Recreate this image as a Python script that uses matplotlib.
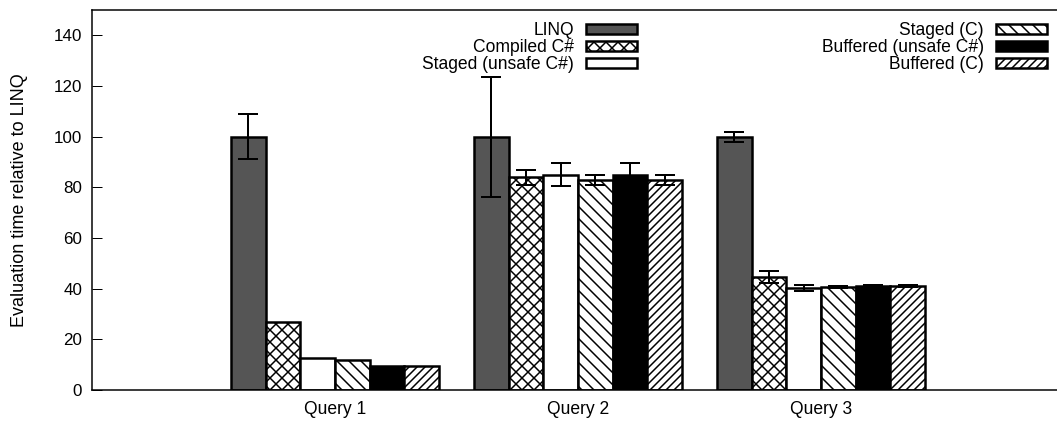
import matplotlib
matplotlib.use('Agg')
import matplotlib.pyplot as plt
import numpy as np

# data
queries = ['Query 1', 'Query 2', 'Query 3']
series = ['LINQ', 'Compiled C#', 'Staged (unsafe C#)',
          'Staged (C)', 'Buffered (unsafe C#)', 'Buffered (C)']

linq = [100, 100, 100]
compiled = [27, 84, 44.5]
staged_unsafe = [12.5, 85, 40.3]
staged_c = [12, 83, 40.7]
buffered_unsafe = [9.5, 85, 41]
buffered_c = [9.5, 83, 41]

linq_err = [9, 23.7, 2]
compiled_err = [0, 3, 2.3]
staged_unsafe_err = [0, 4.6, 1.3]
staged_c_err = [0, 2, 0.3]
buffered_unsafe_err = [0, 4.5, 0.3]
buffered_c_err = [0, 2, 0.3]

values = [linq, compiled, staged_unsafe, staged_c, buffered_unsafe, buffered_c]
errors = [linq_err, compiled_err, staged_unsafe_err, staged_c_err,
          buffered_unsafe_err, buffered_c_err]

# gnuplot-ish look
plt.rcParams['font.family'] = ['Liberation Sans', 'DejaVu Sans']
plt.rcParams['hatch.linewidth'] = 1.5

colors = ['#555555', 'white', 'white', 'white', 'black', 'white']
hatches = [None, 'xx', None, '\\\\', None, '///']

dpi = 72
fig = plt.figure(figsize=(1057 / dpi, 421 / dpi), dpi=dpi)
ax = fig.add_axes([92 / 1057, 31 / 421, 972 / 1057, 380 / 421])

x = np.arange(len(queries))
w = 1.0 / 7
handles = []
for j in range(len(series)):
    pos = x + (j - 2.5) * w
    b = ax.bar(pos, values[j], width=w, color=colors[j], hatch=hatches[j],
               edgecolor='black', linewidth=2.5, label=series[j], zorder=2)
    handles.append(b)
    err = np.array(errors[j])
    m = err > 0
    ax.errorbar(pos[m], np.array(values[j])[m], yerr=err[m], fmt='none',
                ecolor='black', elinewidth=2, capsize=10, capthick=2, zorder=3)

ax.set_xlim(-1, 3)
ax.set_ylim(0, 150)
ax.set_yticks(np.arange(0, 141, 20))
ax.set_xticks(x)
ax.set_xticklabels(queries, fontsize=17.5)
ax.tick_params(axis='x', length=0, pad=11)
ax.tick_params(axis='y', direction='in', length=10, width=1, labelsize=17,
               pad=10)
ax.spines['right'].set_visible(False)
for s in ax.spines.values():
    s.set_linewidth(1.5)

ax.set_ylabel('Evaluation time relative to LINQ', fontsize=18)
ax.yaxis.set_label_coords(-(92 - 28) / 972, 0.5)

leg_kw = dict(frameon=False, markerfirst=False, fontsize=17.5, loc='upper right',
              handlelength=2.9, handleheight=0.55, handletextpad=0.7,
              labelspacing=0.0, borderpad=0, borderaxespad=0)
leg1 = ax.legend(handles[:3], series[:3],
                 bbox_to_anchor=((637 - 92) / 972, (390 - 22) / 380), **leg_kw)
ax.add_artist(leg1)
ax.legend(handles[3:], series[3:],
          bbox_to_anchor=((1047 - 92) / 972, (390 - 22) / 380), **leg_kw)

plt.savefig('out.png', dpi=dpi)
